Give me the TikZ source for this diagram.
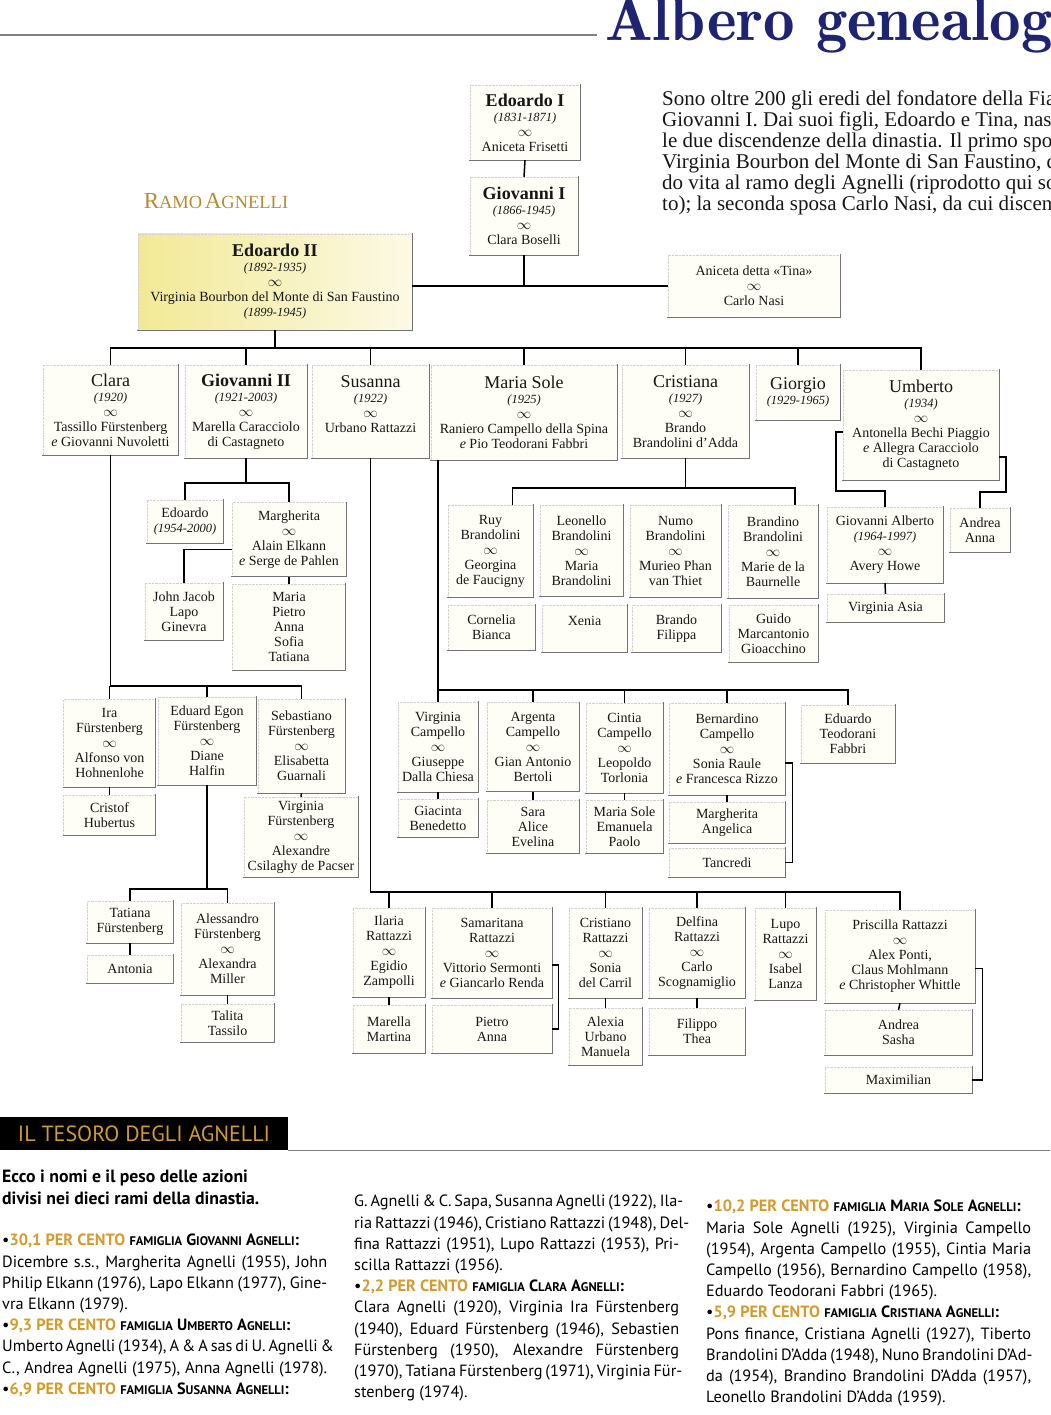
\documentclass[tikz,border=0pt]{standalone}
\usepackage{fontspec}
\usepackage{tikz}
\setmainfont{Liberation Serif}
\newfontfamily\tesoro{PT Sans}
\definecolor{inchiostro}{HTML}{161616}
\definecolor{carta}{HTML}{FFFEF6}
\definecolor{blu}{HTML}{1E2472}
\definecolor{oro}{HTML}{B98A2E}
\definecolor{orotesoro}{HTML}{D49A2C}
\definecolor{giallo}{HTML}{F2E996}
\newcommand{\boxfont}{\fontsize{14}{15}\selectfont}
\newcommand{\nome}[1]{{\fontsize{18}{18}\selectfont #1}}
\newcommand{\nomeb}[1]{{\fontsize{18}{18}\selectfont\bfseries #1}}
\newcommand{\anni}[1]{{\fontsize{12.5}{13}\selectfont\itshape #1}}
\newcommand{\sposo}{$\infty$}
\newcommand{\ecor}{{\itshape e}}
\newcommand{\maiusc}[1]{{\fontsize{12.5}{21}\selectfont #1}}
\newcommand{\quota}[1]{{\color{orotesoro}\bfseries #1}}
\newcommand{\riga}[1]{\makebox[325pt][s]{#1}}
\newcommand{\grande}[1]{{\fontsize{23}{24}\selectfont #1}}
\newcommand{\piccolo}[1]{{\fontsize{18.5}{24}\selectfont #1}}

\begin{document}
\begin{tikzpicture}[x=1pt,y=-1pt,
  box/.style 2 args={draw=black!18, densely dotted, fill=carta, text=inchiostro,
    minimum width=#1pt, minimum height=#2pt, inner sep=1pt, align=center, font=\boxfont,
    append after command={(\tikzlastnode.north east) edge[bordo] (\tikzlastnode.south east)
      (\tikzlastnode.south east) edge[bordo] (\tikzlastnode.south west)}},
  bordo/.style={draw=black!55, solid, line width=0.9pt, line cap=rect},
  link/.style={draw=black, line width=1.5pt},
  linkfine/.style={draw=black, line width=1.1pt},
  banner/.style={fill=black, text=orotesoro, minimum width=288pt, minimum height=33pt,
    inner sep=0pt, font={\tesoro\fontsize{22}{24}\selectfont}},
  colonna/.style={anchor=north west, inner sep=0pt, align=left, text=black,
    font={\tesoro\fontsize{16.3}{21.2}\selectfont}},
  filetto/.style={draw=black!50, line width=1.1pt}]
\useasboundingbox (0,0) rectangle (1050,1415);
\clip (0,0) rectangle (1050,1415);

\node[anchor=base west, inner sep=0pt, text=blu, font={\fontfamily{lmr}\bfseries\fontsize{63}{65}\selectfont}] (titolo) at (605,41) {Albero genealogico};
\draw[filetto] (0,35) -- (597,35);

\node[anchor=north west, inner sep=0pt, align=left, text=inchiostro, font={\fontsize{21}{21}\selectfont}] (intro) at (662,91)
  {Sono oltre 200 gli eredi del fondatore della Fiat,\\
   Giovanni I. Dai suoi figli, Edoardo e Tina, nascono\\
   le due discendenze della dinastia. Il primo sposò\\
   Virginia Bourbon del Monte di San Faustino, dan-\\
   do vita al ramo degli Agnelli (riprodotto qui sot-\\
   to); la seconda sposa Carlo Nasi, da cui discende};

\node[text=oro] (ramo) at (216,201) {\grande{R}\piccolo{AMO} \grande{A}\piccolo{GNELLI}};

\node[box={110}{75}] (edo1) at (525,122.5) {\nomeb{Edoardo I}\\ \anni{(1831-1871)}\\ \sposo\\ Aniceta Frisetti};
\node[box={108}{78}] (giov1) at (524,216) {\nomeb{Giovanni I}\\ \anni{(1866-1945)}\\ \sposo\\ Clara Boselli};
\node[box={172}{62}] (tina) at (754,286) {Aniceta detta «Tina»\\ \sposo\\ Carlo Nasi};
\node[box={274}{96}, left color=giallo, right color=giallo!25!white] (edo2) at (275,282)
  {\nomeb{Edoardo II}\\ \anni{(1892-1935)}\\ \sposo\\ Virginia Bourbon del Monte di San Faustino\\ \anni{(1899-1945)}};

\draw[link] (edo1.south) -- (giov1.north);
\draw[link] (giov1.south) -- (giov1.south |- tina.west);
\draw[link] (edo2.east |- tina.west) -- (tina.west);

\node[box={135}{90}] (clara) at (110.5,410) {\nome{Clara}\\ \anni{(1920)}\\ \sposo\\ Tassillo Fürstenberg\\ \ecor{} Giovanni Nuvoletti};
\node[box={122}{93}] (giov2) at (246,411.5) {\nomeb{Giovanni II}\\ \anni{(1921-2003)}\\ \sposo\\ Marella Caracciolo\\ di Castagneto};
\node[box={117}{93}] (susanna) at (370.5,411.5) {\nome{Susanna}\\ \anni{(1922)}\\ \sposo\\ Urbano Rattazzi\\ ~};
\node[box={186}{95}] (mariasole) at (524,412.5) {\nome{Maria Sole}\\ \anni{(1925)}\\ \sposo\\ Raniero Campello della Spina\\ \ecor{} Pio Teodorani Fabbri};
\node[box={127}{93}] (cristiana) at (685.5,411.5) {\nome{Cristiana}\\ \anni{(1927)}\\ \sposo\\ Brando\\ Brandolini d'Adda};
\node[box={84}{55}] (giorgio) at (798,392.5) {\nome{Giorgio}\\ \anni{(1929-1965)}};
\node[box={156}{110}] (umberto) at (921,425) {\nome{Umberto}\\ \anni{(1934)}\\ \sposo\\ Antonella Bechi Piaggio\\ \ecor{} Allegra Caracciolo\\ di Castagneto};

\coordinate (figli) at (0,348);
\draw[link] (edo2.south) -- (edo2.south |- figli);
\draw[link] (clara.north) |- (figli -| umberto.north) -- (umberto.north);
\draw[link] (giov2.north) -- (giov2.north |- figli);
\draw[link] (susanna.north) -- (susanna.north |- figli);
\draw[link] (mariasole.north) -- (mariasole.north |- figli);
\draw[link] (cristiana.north) -- (cristiana.north |- figli);
\draw[link] (giorgio.north) -- (giorgio.north |- figli);

\node[box={76}{43}] (edoardo) at (185,521.5) {Edoardo\\ \anni{(1954-2000)}};
\node[box={114}{74}] (margherita) at (289,539.5) {Margherita\\ \sposo\\ Alain Elkann\\ \ecor{} Serge de Pahlen};
\node[box={78}{57}] (johnjacob) at (184,611.5) {John Jacob\\ Lapo\\ Ginevra};
\node[box={113}{86}] (mariapietro) at (289,627) {Maria\\ Pietro\\ Anna\\ Sofia\\ Tatiana};

\coordinate (figliG) at (0,483);
\draw[link] (giov2.south) -- (giov2.south |- figliG);
\draw[link] (edoardo.north) |- (figliG -| margherita.north) -- (margherita.north);
\draw[link] ([yshift=-10pt]margherita.west) -| (johnjacob.north);
\draw[link] (margherita.south) -- (mariapietro.north);

\node[box={92}{88}] (ira) at (109.5,743) {Ira\\ Fürstenberg\\ \sposo\\ Alfonso von\\ Hohnenlohe};
\node[box={98}{88}] (eduard) at (207,741) {Eduard Egon\\ Fürstenberg\\ \sposo\\ Diane\\ Halfin};
\node[box={87}{94}] (sebastiano) at (301.5,746) {Sebastiano\\ Fürstenberg\\ \sposo\\ Elisabetta\\ Guarnali};
\node[box={92}{40}] (cristof) at (109.5,815) {Cristof\\ Hubertus};
\node[box={114}{80}] (virginiaf) at (301,837) {Virginia\\ Fürstenberg\\ \sposo\\ Alexandre\\ Csilaghy de Pacser};
\node[box={86}{42}] (tatiana) at (130,922) {Tatiana\\ Fürstenberg};
\node[box={86}{28}] (antonia) at (130,969) {Antonia};
\node[box={93}{92}] (alessandro) at (227.5,949) {Alessandro\\ Fürstenberg\\ \sposo\\ Alexandra\\ Miller};
\node[box={93}{38}] (talita) at (227.5,1023) {Talita\\ Tassilo};

\coordinate (figliC) at (0,686);
\draw[link] (clara.south) |- (figliC -| sebastiano.north) -- (sebastiano.north);
\draw[link] (ira.north) -- (ira.north |- figliC);
\draw[link] (eduard.north) -- (eduard.north |- figliC);
\draw[link] (ira.south) -- (cristof.north);
\draw[link] (sebastiano.south) -- (virginiaf.north);
\coordinate (figliE) at (0,889);
\draw[link] (eduard.south) -- (eduard.south |- figliE);
\draw[link] (tatiana.north) |- (figliE -| alessandro.north) -- (alessandro.north);
\draw[link] (tatiana.south) -- (antonia.north);
\draw[link] (alessandro.south) -- (talita.north);

\node[box={85}{92}] (ruy) at (490.5,551) {Ruy\\ Brandolini\\ \sposo\\ Georgina\\ de Faucigny};
\node[box={87}{45}] (cornelia) at (491.5,627.5) {Cornelia\\ Bianca};
\node[box={83}{91}] (leonello) at (581.5,550.5) {Leonello\\ Brandolini\\ \sposo\\ Maria\\ Brandolini};
\node[box={85}{47}] (xenia) at (584.5,628.5) {Xenia\\ ~};
\node[box={91}{92}] (numo) at (675.5,551) {Numo\\ Brandolini\\ \sposo\\ Murieo Phan\\ van Thiet};
\node[box={89}{47}] (brando) at (676.5,628.5) {Brando\\ Filippa};
\node[box={90}{93}] (brandino) at (773,551.5) {Brandino\\ Brandolini\\ \sposo\\ Marie de la\\ Baurnelle};
\node[box={89}{57}] (guido) at (773.5,633.5) {Guido\\ Marcantonio\\ Gioacchino};

\coordinate (figliCr) at (0,488);
\coordinate (ruyT) at ([xshift=22pt]ruy.north);
\coordinate (brandinoT) at ([xshift=22pt]brandino.north);
\draw[link] (cristiana.south) -- (cristiana.south |- figliCr);
\draw[link] (ruyT) |- (figliCr -| brandinoT) -- (brandinoT);

\node[box={116}{76}] (gioalberto) at (885,545) {Giovanni Alberto\\ \anni{(1964-1997)}\\ \sposo\\ Avery Howe};
\node[box={117}{28}] (virginiaasia) at (885.5,608) {Virginia Asia};
\node[box={60}{44}] (andreaanna) at (980,530) {Andrea\\ Anna};

\draw[link] ([yshift=-7pt]umberto.west) -- ++(-7,0) |- ([yshift=16pt]gioalberto.north) -- (gioalberto.north);
\draw[link] ([yshift=-32pt]umberto.east) -- ++(7,0) |- ([yshift=16pt]andreaanna.north) -- (andreaanna.north);
\draw[link] (gioalberto.south) -- (virginiaasia.north);

\node[box={80}{90}] (virginia) at (438,747) {Virginia\\ Campello\\ \sposo\\ Giuseppe\\ Dalla Chiesa};
\node[box={80}{38}] (giacinta) at (438,818) {Giacinta\\ Benedetto};
\node[box={92}{89}] (argenta) at (533,747) {Argenta\\ Campello\\ \sposo\\ Gian Antonio\\ Bertoli};
\node[box={92}{53}] (sara) at (533,826.5) {Sara\\ Alice\\ Evelina};
\node[box={77}{90}] (cintia) at (624.5,748) {Cintia\\ Campello\\ \sposo\\ Leopoldo\\ Torlonia};
\node[box={77}{53}] (mariasoledue) at (624.5,826.5) {Maria Sole\\ Emanuela\\ Paolo};
\node[box={116}{92}] (bernardino) at (727,749) {Bernardino\\ Campello\\ \sposo\\ Sonia Raule\\ \ecor{} Francesca Rizzo};
\node[box={116}{41}] (margheritaa) at (727,822.5) {Margherita\\ Angelica};
\node[box={116}{29}] (tancredi) at (727,862.5) {Tancredi};
\node[box={94}{58}] (eduardo) at (848,734) {Eduardo\\ Teodorani\\ Fabbri};

\coordinate (figliM) at (0,690);
\draw[link] (virginia.north |- mariasole.south) -- (virginia.north);
\draw[link] (virginia.north |- figliM) -| (eduardo.north);
\draw[link] (argenta.north) -- (argenta.north |- figliM);
\draw[link] (cintia.north) -- (cintia.north |- figliM);
\draw[link] (bernardino.north) -- (bernardino.north |- figliM);
\draw[link] (virginia.south) -- (giacinta.north);
\draw[link] (argenta.south) -- (sara.north);
\draw[link] (cintia.south) -- (mariasoledue.north);
\draw[link] (bernardino.south) -- (margheritaa.north);
\draw[linkfine] ([yshift=-14pt]bernardino.east) -- ++(7,0) |- (tancredi.east);

\node[box={72}{89}] (ilaria) at (389,952.5) {Ilaria\\ Rattazzi\\ \sposo\\ Egidio\\ Zampolli};
\node[box={72}{48}] (marella) at (389,1029) {Marella\\ Martina};
\node[box={120}{90}] (samaritana) at (492,953) {Samaritana\\ Rattazzi\\ \sposo\\ Vittorio Sermonti\\ \ecor{} Giancarlo Renda};
\node[box={120}{48}] (pietro) at (492,1029) {Pietro\\ Anna};
\node[box={73}{90}] (cristiano) at (605.5,953) {Cristiano\\ Rattazzi\\ \sposo\\ Sonia\\ del Carril};
\node[box={73}{57}] (alexia) at (605.5,1036.5) {Alexia\\ Urbano\\ Manuela};
\node[box={96}{90}] (delfina) at (697,953) {Delfina\\ Rattazzi\\ \sposo\\ Carlo\\ Scognamiglio};
\node[box={96}{47}] (filippo) at (697,1031.5) {Filippo\\ Thea};
\node[box={61}{92}] (lupo) at (785.5,954) {Lupo\\ Rattazzi\\ \sposo\\ Isabel\\ Lanza};
\node[box={150}{93}] (priscilla) at (900,956.5) {Priscilla Rattazzi\\ \sposo\\ Alex Ponti,\\ Claus Mohlmann\\ \ecor{} Christopher Whittle};
\node[box={147}{45}] (andreasasha) at (898.5,1032.5) {Andrea\\ Sasha};
\node[box={147}{26}] (maximilian) at (898.5,1080) {Maximilian};

\coordinate (figliS) at (0,892);
\draw[link] (susanna.south) |- (figliS -| priscilla.north) -- (priscilla.north);
\draw[link] (ilaria.north) -- (ilaria.north |- figliS);
\draw[link] (samaritana.north) -- (samaritana.north |- figliS);
\draw[link] (cristiano.north) -- (cristiano.north |- figliS);
\draw[link] (delfina.north) -- (delfina.north |- figliS);
\draw[link] (lupo.north) -- (lupo.north |- figliS);
\draw[link] (ilaria.south) -- (marella.north);
\draw[linkfine] ([yshift=-12pt]samaritana.east) -- ++(6,0) |- (pietro.east);
\draw[link] (cristiano.south) -- (alexia.north);
\draw[link] (delfina.south) -- (filippo.north);
\draw[link] (priscilla.south) -- (andreasasha.north);
\draw[linkfine] ([yshift=-12pt]priscilla.east) -- ++(7,0) |- (maximilian.east);

\node[banner] (tesoro) at (144,1133.5) {IL TESORO DEGLI AGNELLI};
\draw[filetto] (tesoro.south east) -- ++(762,0);

\node[colonna, font={\tesoro\bfseries\fontsize{17.7}{21.5}\selectfont}] (ecco) at (2,1170)
  {Ecco i nomi e il peso delle azioni\\ divisi nei dieci rami della dinastia.};

\node[colonna] (colA) at (2,1234)
  {•\quota{30,1 PER CENTO} {\bfseries\maiusc{FAMIGLIA} G\maiusc{IOVANNI} A\maiusc{GNELLI}:}\\
   \riga{Dicembre s.s., Margherita Agnelli (1955), John}\\
   \riga{Philip Elkann (1976), Lapo Elkann (1977), Gine-}\\
   vra Elkann (1979).\\
   •\quota{9,3 PER CENTO} {\bfseries\maiusc{FAMIGLIA} U\maiusc{MBERTO} A\maiusc{GNELLI}:}\\
   \riga{Umberto Agnelli (1934), A \& A sas di U. Agnelli \&}\\
   \riga{C., Andrea Agnelli (1975), Anna Agnelli (1978).}\\
   •\quota{6,9 PER CENTO} {\bfseries\maiusc{FAMIGLIA} S\maiusc{USANNA} A\maiusc{GNELLI}:}};

\node[colonna] (colB) at (354,1195)
  {\riga{G. Agnelli \& C. Sapa, Susanna Agnelli (1922), Ila-}\\
   \riga{ria Rattazzi (1946), Cristiano Rattazzi (1948), Del-}\\
   \riga{fina Rattazzi (1951), Lupo Rattazzi (1953), Pri-}\\
   scilla Rattazzi (1956).\\
   •\quota{2,2 PER CENTO} {\bfseries\maiusc{FAMIGLIA} C\maiusc{LARA} A\maiusc{GNELLI}:}\\
   \riga{Clara Agnelli (1920), Virginia Ira Fürstenberg}\\
   \riga{(1940), Eduard Fürstenberg (1946), Sebastien}\\
   \riga{Fürstenberg (1950), Alexandre Fürstenberg}\\
   \riga{(1970), Tatiana Fürstenberg (1971), Virginia Für-}\\
   stenberg (1974).};

\node[colonna] (colC) at (706,1200)
  {•\quota{10,2 PER CENTO} {\bfseries\maiusc{FAMIGLIA} M\maiusc{ARIA} S\maiusc{OLE} A\maiusc{GNELLI}:}\\
   \riga{Maria Sole Agnelli (1925), Virginia Campello}\\
   \riga{(1954), Argenta Campello (1955), Cintia Maria}\\
   \riga{Campello (1956), Bernardino Campello (1958),}\\
   Eduardo Teodorani Fabbri (1965).\\
   •\quota{5,9 PER CENTO} {\bfseries\maiusc{FAMIGLIA} C\maiusc{RISTIANA} A\maiusc{GNELLI}:}\\
   \riga{Pons finance, Cristiana Agnelli (1927), Tiberto}\\
   \riga{Brandolini D’Adda (1948), Nuno Brandolini D’Ad-}\\
   \riga{da (1954), Brandino Brandolini D’Adda (1957),}\\
   Leonello Brandolini D’Adda (1959).};
\end{tikzpicture}
\end{document}
